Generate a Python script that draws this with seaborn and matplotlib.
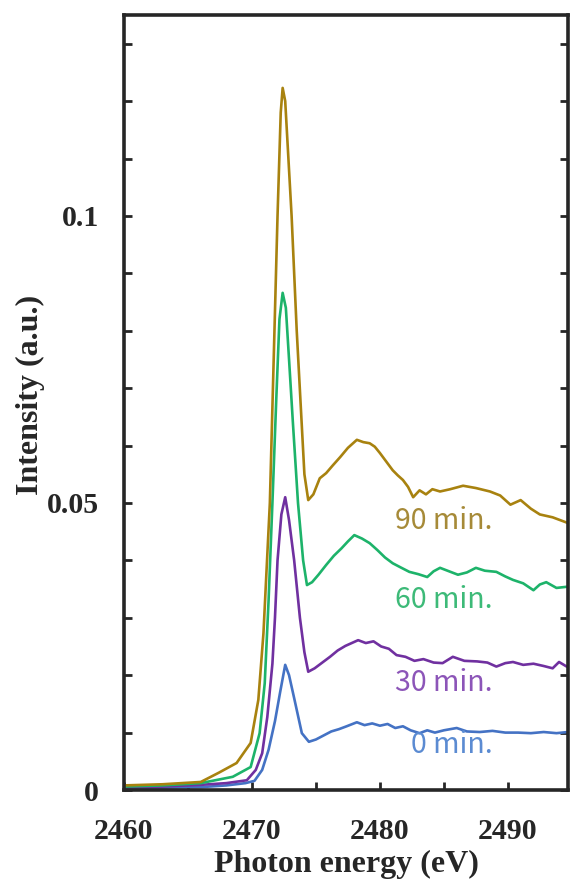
import numpy as np
import pandas as pd
import matplotlib
matplotlib.use("Agg")
import matplotlib.pyplot as plt
from matplotlib.ticker import MultipleLocator
import seaborn as sns

# S K-edge XANES, one array pair per time
e_0 = [2460, 2463, 2466, 2468, 2469.5, 2470.2, 2470.8, 2471.3, 2471.8, 2472.2, 2472.6, 2472.9,
       2473.3, 2473.9, 2474.45, 2475.0, 2475.6, 2476.2, 2476.8, 2477.4, 2478.2, 2478.8, 2479.4,
       2480.0, 2480.6, 2481.2, 2481.8, 2482.4, 2483.1, 2483.7, 2484.3, 2485.0, 2486.0, 2486.8,
       2487.8, 2488.8, 2489.8, 2490.8, 2491.8, 2492.8, 2493.8, 2494.7]
i_0 = [0.0003, 0.0004, 0.0005, 0.0008, 0.0012, 0.0016, 0.0035, 0.007, 0.012, 0.017, 0.0218, 0.020,
       0.016, 0.0099, 0.0084, 0.0088, 0.0095, 0.0102, 0.0106, 0.0111, 0.0118, 0.0113, 0.0116,
       0.0112, 0.0115, 0.0108, 0.0111, 0.0104, 0.0099, 0.0104, 0.0100, 0.0104, 0.0108, 0.0102,
       0.0101, 0.0103, 0.0100, 0.0100, 0.0099, 0.0101, 0.0099, 0.0101]

e_30 = [2460, 2463, 2466, 2468, 2469.6, 2470.3, 2470.8, 2471.2, 2471.6, 2471.8, 2472.0, 2472.3,
        2472.6, 2472.9, 2473.3, 2473.75, 2474.1, 2474.4, 2474.9, 2475.5, 2476.1, 2476.7, 2477.3,
        2478.3, 2478.9, 2479.5, 2480.1, 2480.7, 2481.3, 2482.0, 2482.7, 2483.4, 2484.2, 2484.9,
        2485.7, 2486.6, 2487.6, 2488.4, 2489.1, 2489.8, 2490.4, 2491.2, 2492.0, 2492.8, 2493.5,
        2494.0, 2494.6]
i_30 = [0.0004, 0.0006, 0.0009, 0.0012, 0.0017, 0.0035, 0.0064, 0.0127, 0.022, 0.030, 0.040, 0.048,
        0.051, 0.047, 0.040, 0.030, 0.024, 0.0206, 0.0212, 0.0222, 0.0232, 0.0243, 0.0251,
        0.0261, 0.0256, 0.0259, 0.0250, 0.0246, 0.0235, 0.0232, 0.0225, 0.0228, 0.0222, 0.0221,
        0.0232, 0.0225, 0.0224, 0.0222, 0.0215, 0.0221, 0.0223, 0.0218, 0.0220, 0.0216, 0.0212,
        0.0223, 0.0215]

e_60 = [2460, 2463, 2466, 2468.5, 2469.9, 2470.6, 2471.0, 2471.3, 2471.6, 2471.9, 2472.15, 2472.4,
        2472.65, 2472.9, 2473.2, 2473.6, 2474.0, 2474.3, 2474.7, 2475.2, 2475.8, 2476.4, 2477.0,
        2477.5, 2478.0, 2478.6, 2479.2, 2479.8, 2480.4, 2481.0, 2481.6, 2482.3, 2483.0, 2483.7,
        2484.2, 2484.7, 2485.4, 2486.1, 2486.8, 2487.5, 2488.2, 2489.1, 2489.8, 2490.4, 2491.2,
        2492.0, 2492.5, 2493.0, 2493.8, 2494.6]
i_60 = [0.0006, 0.0008, 0.0012, 0.0023, 0.004, 0.0099, 0.0186, 0.033, 0.050, 0.068, 0.082, 0.0866,
        0.084, 0.075, 0.064, 0.050, 0.040, 0.0357, 0.0362, 0.0375, 0.0392, 0.0408, 0.0421,
        0.0433, 0.0444, 0.0438, 0.0430, 0.0418, 0.0405, 0.0395, 0.0388, 0.0380, 0.0376, 0.0371,
        0.0381, 0.0387, 0.0381, 0.0375, 0.0379, 0.0387, 0.0382, 0.0380, 0.0372, 0.0366, 0.0360,
        0.0348, 0.0358, 0.0362, 0.0352, 0.0354]

e_90 = [2460, 2463, 2466, 2467.4, 2468.8, 2469.9, 2470.5, 2470.9, 2471.4, 2471.7, 2472.0, 2472.25,
        2472.4, 2472.6, 2472.8, 2473.1, 2473.5, 2474.1, 2474.4, 2474.8, 2475.3, 2475.8, 2476.3,
        2476.9, 2477.5, 2478.2, 2478.7, 2479.2, 2479.6, 2480.0, 2480.5, 2481.0, 2481.4, 2481.8,
        2482.2, 2482.6, 2483.1, 2483.6, 2484.1, 2484.7, 2485.5, 2486.5, 2487.5, 2488.6, 2489.4,
        2490.2, 2491.0, 2491.8, 2492.5, 2493.5, 2494.7]
i_90 = [0.0008, 0.0010, 0.0014, 0.003, 0.0047, 0.0082, 0.0157, 0.0273, 0.050, 0.075, 0.100, 0.118,
        0.1223, 0.120, 0.112, 0.100, 0.080, 0.055, 0.0505, 0.0515, 0.0543, 0.0552, 0.0565,
        0.0580, 0.0596, 0.0610, 0.0606, 0.0604, 0.0598, 0.0587, 0.0572, 0.0557, 0.0548, 0.0540,
        0.0528, 0.0510, 0.0522, 0.0515, 0.0524, 0.0520, 0.0524, 0.0530, 0.0526, 0.0520, 0.0513,
        0.0497, 0.0505, 0.0490, 0.0480, 0.0475, 0.0465]

labels = ["0 min.", "30 min.", "60 min.", "90 min."]
label_y = [0.0078, 0.0186, 0.0331, 0.0469]
line_colors = ["#4472C4", "#7030A0", "#1DB36A", "#A8820F"]
text_colors = ["#5B8BD2", "#8C55B8", "#3DBA78", "#A68A38"]

df = pd.concat([
    pd.DataFrame({"energy": e, "intensity": i, "time": lab})
    for e, i, lab in zip([e_0, e_30, e_60, e_90], [i_0, i_30, i_60, i_90], labels)
])

sns.set_style("ticks")
plt.rcParams["font.family"] = ["Liberation Serif", "DejaVu Serif"]

fig = plt.figure(figsize=(5.7, 8.82), dpi=100)
ax = fig.add_axes([0.2175, 0.1043, 0.7790, 0.8787])

sns.lineplot(data=df, x="energy", y="intensity", hue="time", hue_order=labels,
             palette=line_colors, estimator=None, sort=False, linewidth=1.9,
             legend=False, ax=ax)

for lab, y, c in zip(labels, label_y, text_colors):
    ax.text(2488.8, y, lab, ha="right", va="center", fontsize=20.5, color=c,
            family=["Noto Sans CJK JP", "DejaVu Sans"])

ax.set_xlim(2460, 2494.7)
ax.set_ylim(0, 0.135)
ax.set_xticks([2460, 2470, 2480, 2490])
ax.xaxis.set_minor_locator(MultipleLocator(5))
ax.yaxis.set_major_locator(MultipleLocator(0.01))
ax.set_yticklabels(["0" if abs(t) < 1e-9 else ("0.05" if abs(t - 0.05) < 1e-9 else ("0.1" if abs(t - 0.1) < 1e-9 else ""))
                    for t in ax.get_yticks()])

ax.tick_params(axis="both", which="both", direction="in", width=2, length=6, labelsize=21.5)
ax.tick_params(axis="y", which="both", right=True, pad=18)
ax.tick_params(axis="x", which="both", top=False, pad=20)
for lbl in ax.get_xticklabels() + ax.get_yticklabels():
    lbl.set_fontweight("bold")
for sp in ax.spines.values():
    sp.set_linewidth(2.6)
    sp.set_visible(True)

ax.set_xlabel("Photon energy (eV)", fontsize=23, fontweight="bold", labelpad=4)
ax.set_ylabel("Intensity (a.u.)", fontsize=23, fontweight="bold")
ax.yaxis.set_label_coords(-0.178, 0.51)

fig.savefig("out.png", dpi=100)
